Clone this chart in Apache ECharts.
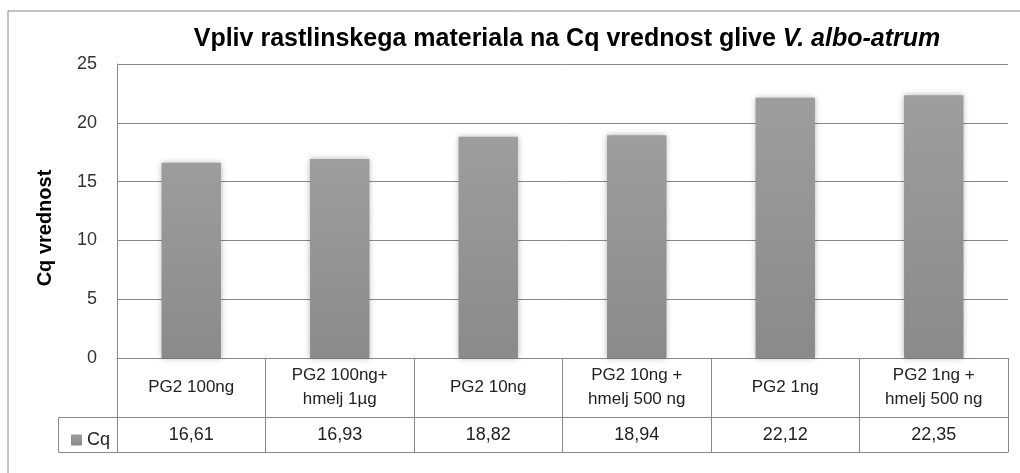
<!DOCTYPE html>
<html>
<head>
<meta charset="utf-8">
<script src="https://cdn.jsdelivr.net/npm/echarts@6/dist/echarts.min.js"></script>
<style>
  html, body { margin: 0; padding: 0; background: #fff; }
  #main { width: 1020px; height: 473px; }
</style>
</head>
<body>
<div id="main"></div>
<script>
var categories = ['PG2 100ng', 'PG2 100ng+\nhmelj 1µg', 'PG2 10ng', 'PG2 10ng +\nhmelj 500 ng', 'PG2 1ng', 'PG2 1ng +\nhmelj 500 ng'];
var cqValues = [16.61, 16.93, 18.82, 18.94, 22.12, 22.35];
var yTicks = [0, 5, 10, 15, 20, 25];

window.addEventListener('load', function() {
    var myChart = echarts.init(document.getElementById('main'));
    var font = '"Liberation Sans", "Open Sans", sans-serif';
    var lineColor = '#888888';
    // values row of the data table, shown with decimal comma
    var valueLabels = cqValues.map(function(v) { return v.toFixed(2).replace('.', ','); });

    var option = {
        animation: false,
        textStyle: { fontFamily: font },
        title: {
            text: '{n|Vpliv rastlinskega materiala na Cq vrednost glive }{i|V. albo-atrum}',
            left: 562,
            top: 22,
            textAlign: 'center',
            textStyle: {
                rich: {
                    n: { fontFamily: font, fontSize: 25, fontWeight: 'bold', color: '#000' },
                    i: { fontFamily: font, fontSize: 25, fontWeight: 'bold', fontStyle: 'italic', color: '#000' }
                }
            }
        },
        legend: {
            data: ['Cq'],
            left: 66,
            top: 426,
            icon: 'rect',
            itemWidth: 11,
            itemHeight: 11,
            itemGap: 6,
            textStyle: { fontFamily: font, fontSize: 18, color: '#222' }
        },
        grid: {
            left: 117,
            right: 12,
            top: 64,
            bottom: 115
        },
        xAxis: [{
            type: 'category',
            data: categories,
            axisLine: { lineStyle: { color: lineColor } },
            axisTick: { show: true, length: 94, lineStyle: { color: lineColor } },
            axisLabel: {
                interval: 0,
                margin: 29,
                verticalAlign: 'middle',
                fontFamily: font,
                fontSize: 17,
                lineHeight: 24,
                color: '#222'
            }
        }, {
            type: 'category',
            data: valueLabels,
            position: 'bottom',
            offset: 59,
            axisLine: { show: true, lineStyle: { color: lineColor } },
            axisTick: { show: false },
            axisLabel: {
                interval: 0,
                margin: 18,
                verticalAlign: 'middle',
                fontFamily: font,
                fontSize: 18,
                color: '#222'
            }
        }, {
            type: 'category',
            data: valueLabels,
            position: 'bottom',
            offset: 94,
            axisLine: { show: true, lineStyle: { color: lineColor } },
            axisTick: { show: false },
            axisLabel: { show: false }
        }],
        yAxis: {
            type: 'value',
            min: 0,
            max: yTicks[yTicks.length - 1],
            interval: yTicks[1] - yTicks[0],
            name: 'Cq vrednost',
            nameLocation: 'middle',
            nameGap: 62,
            // padding pushes the rotated name a bit below the plot centre, as in the original
            nameTextStyle: { fontFamily: font, fontSize: 20, fontWeight: 'bold', color: '#000', padding: [0, 34, 0, 0] },
            axisLine: { show: true, lineStyle: { color: lineColor } },
            axisTick: { show: false },
            splitLine: { lineStyle: { color: lineColor } },
            axisLabel: { margin: 20, fontFamily: font, fontSize: 18, color: '#333' }
        },
        graphic: [{
            // outer chart frame (cut off at right and bottom)
            type: 'polyline',
            shape: { points: [[8, 480], [8, 11], [1030, 11]] },
            style: { fill: null, stroke: '#8a8a8a', lineWidth: 1 }
        }, {
            // legend cell of the data table
            type: 'polyline',
            shape: { points: [[117.5, 417.5], [58.5, 417.5], [58.5, 452.5], [117.5, 452.5]] },
            style: { fill: null, stroke: lineColor, lineWidth: 1 }
        }],
        series: [{
            name: 'Cq',
            type: 'bar',
            data: cqValues,
            barWidth: '40%',
            itemStyle: {
                color: new echarts.graphic.LinearGradient(0, 0, 0, 1, [
                    { offset: 0, color: '#9d9d9d' },
                    { offset: 1, color: '#8a8a8a' }
                ]),
                shadowColor: 'rgba(0,0,0,0.3)',
                shadowBlur: 6
            }
        }]
    };

    myChart.setOption(option);
});
</script>
</body>
</html>
